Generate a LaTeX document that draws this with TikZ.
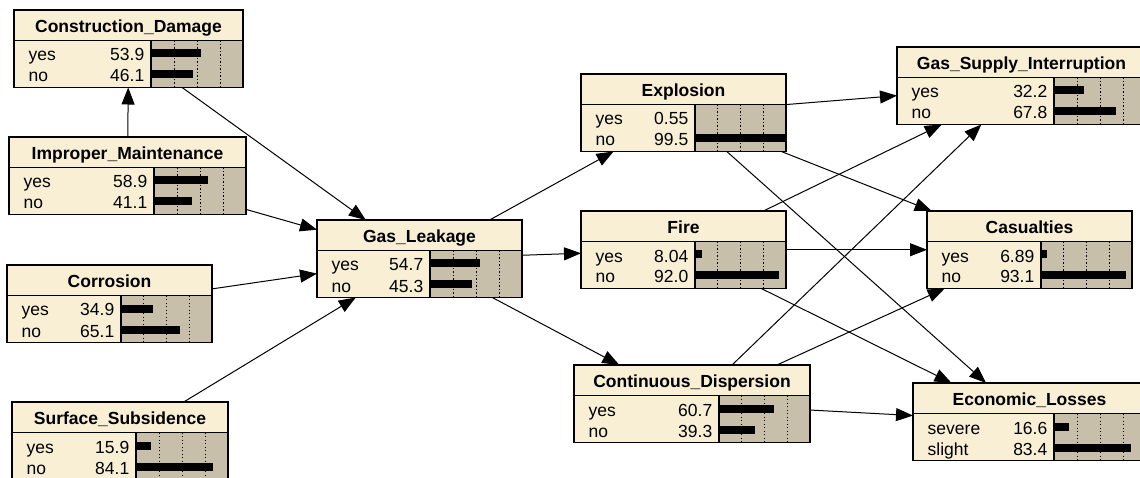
\documentclass[tikz,border=0pt]{standalone}
\usepackage{fontspec}
\setmainfont{Liberation Sans}
\usetikzlibrary{arrows.meta}
\definecolor{bncream}{RGB}{248,239,213}
\definecolor{bntan}{RGB}{200,191,171}
\tikzset{
  bnframe/.style={draw=black, line width=1.3pt, rectangle, inner sep=0pt, outer sep=0pt},
  bnline/.style={draw=black, line width=1.3pt},
  bndot/.style={draw=black, line width=1pt, dash pattern=on 1.2pt off 2.3pt},
  bntitle/.style={anchor=base, inner sep=0pt, font=\fontsize{17.5}{18}\selectfont\bfseries},
  bntext/.style={inner sep=0pt, font=\fontsize{17.5}{18}\selectfont},
  bnedge/.style={draw=black, line width=1pt, -{Triangle[length=17pt,width=13pt]}},
}
% #1 name, #2 left, #3 top, #4 right, #5 bar start, #6 title, #7 rows
\newcommand\bnnode[7]{%
  \fill[bncream] (#2,#3) rectangle (#4,#3+77.5);
  \fill[bntan] (#5,#3+30.5) rectangle (#4,#3+77.5);
  \foreach \f in {0.25,0.5,0.75}
    \draw[bndot] ({#5+(#4-#5)*\f},#3+30.5) -- ({#5+(#4-#5)*\f},#3+77.5);
  \foreach \s/\v [count=\i] in {#7} {
    \pgfmathsetmacro\yb{#3+30.5+(\i-1)*21}
    \fill[black] (#5,\yb+9) rectangle ({#5+\v/100*(#4-#5)},\yb+17);
    \node[bntext, anchor=base west] at ({#2+14.5},\yb+20.5) {\s};
    \node[bntext, anchor=base east] at ({#5-6.5},\yb+20.5) {\v};
  }
  \draw[bnline] (#2,#3+30.5) -- (#4,#3+30.5);
  \draw[bnline] (#5,#3+30.5) -- (#5,#3+77.5);
  \node[bnframe, minimum width={#4-#2}, minimum height=77.5, anchor=north west] (#1) at (#2,#3) {};
  \node[bntitle] (#1-title) at ({(#2+#4)/2},#3+22.6) {#6};
}
\begin{document}
\begin{tikzpicture}[x=1pt,y=-1pt]
\fill[white] (0,0) rectangle (1140,478);
\useasboundingbox (0,0) rectangle (1140,478);
\clip (0,0) rectangle (1140,478);
\bnnode{CD}{14}{10}{243}{151}{Construction\_Damage}{yes/53.9,no/46.1}
\bnnode{IM}{9}{137}{246}{154}{Improper\_Maintenance}{yes/58.9,no/41.1}
\bnnode{Cor}{7}{265}{212}{121}{Corrosion}{yes/34.9,no/65.1}
\bnnode{SS}{12}{402}{228}{136}{Surface\_Subsidence}{yes/15.9,no/84.1}
\bnnode{GL}{317}{220}{522}{430}{Gas\_Leakage}{yes/54.7,no/45.3}
\bnnode{Exp}{581}{74}{786}{695}{Explosion}{yes/0.55,no/99.5}
\bnnode{Fire}{581}{211}{786}{695}{Fire}{yes/8.04,no/92.0}
\bnnode{CDisp}{574}{365}{810}{719}{Continuous\_Dispersion}{yes/60.7,no/39.3}
\bnnode{GSI}{897}{47}{1146}{1054}{Gas\_Supply\_Interruption}{yes/32.2,no/67.8}
\bnnode{Cas}{927}{211}{1132}{1041}{Casualties}{yes/6.89,no/93.1}
\bnnode{EL}{913}{383}{1146}{1054}{Economic\_Losses}{severe/16.6,slight/83.4}
\draw[bnedge] (IM) -- (CD);
\draw[bnedge] (CD) -- (GL);
\draw[bnedge] (IM) -- (GL);
\draw[bnedge] (Cor) -- (GL);
\draw[bnedge] (SS) -- (GL);
\draw[bnedge] (GL) -- (Exp);
\draw[bnedge] (GL) -- (Fire);
\draw[bnedge] (GL) -- (CDisp);
\draw[bnedge] (Exp) -- (GSI);
\draw[bnedge] (Exp) -- (Cas);
\draw[bnedge] (Exp) -- (EL);
\draw[bnedge] (Fire) -- (GSI);
\draw[bnedge] (Fire) -- (Cas);
\draw[bnedge] (Fire) -- (EL);
\draw[bnedge] (CDisp) -- (GSI);
\draw[bnedge] (CDisp) -- (Cas);
\draw[bnedge] (CDisp) -- (EL);
\end{tikzpicture}
\end{document}
